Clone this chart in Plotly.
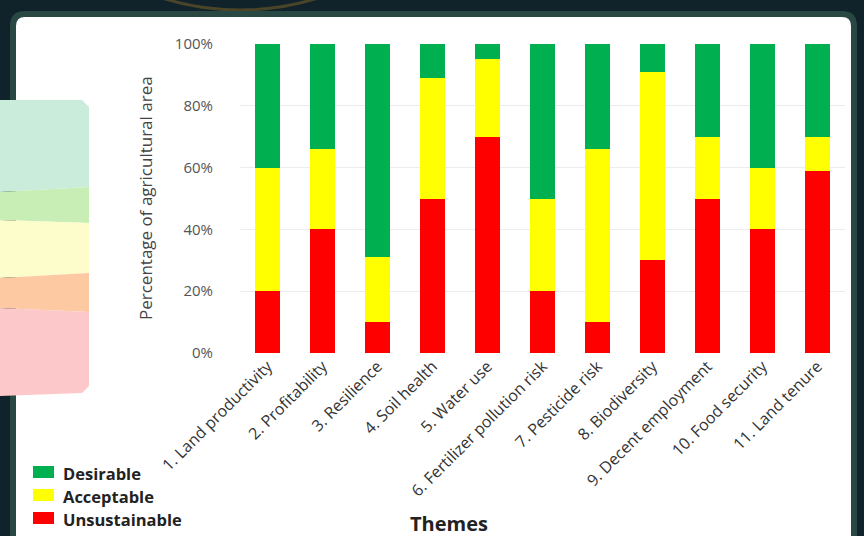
import plotly.graph_objects as go

themes = ["1. Land productivity", "2. Profitability", "3. Resilience", "4. Soil health",
          "5. Water use", "6. Fertilizer pollution risk", "7. Pesticide risk",
          "8. Biodiversity", "9. Decent employment", "10. Food security", "11. Land tenure"]
unsustainable = [20, 40, 10, 50, 70, 20, 10, 30, 50, 40, 59]
acceptable = [40, 26, 21, 39, 25, 30, 56, 61, 20, 20, 11]
desirable = [40, 34, 69, 11, 5, 50, 34, 9, 30, 40, 30]
y_tick_values = [0, 20, 40, 60, 80, 100]
y_tick_labels = ["0%", "20%", "40%", "60%", "80%", "100%"]
series_names = ["Unsustainable", "Acceptable", "Desirable"]
series_colors = ["#ff0000", "#ffff00", "#00b050"]

W, H = 864, 536
L, R, T, B = 240, 19, 44, 183
PW, PH = W - L - R, H - T - B

def px(x):
    return (x - L) / PW

def py(y):
    return (H - B - y) / PH

fig = go.Figure()
for name, vals, col in zip(series_names, [unsustainable, acceptable, desirable], series_colors):
    fig.add_trace(go.Bar(name=name, x=themes, y=vals, marker_color=col))
fig.update_traces(marker_line_width=0, hoverinfo="skip")

def rrect(x0, y0, x1, y1, r):
    return (f"M{px(x0+r)},{py(y0)} L{px(x1-r)},{py(y0)} Q{px(x1)},{py(y0)} {px(x1)},{py(y0+r)} "
            f"L{px(x1)},{py(y1-r)} Q{px(x1)},{py(y1)} {px(x1-r)},{py(y1)} "
            f"L{px(x0+r)},{py(y1)} Q{px(x0)},{py(y1)} {px(x0)},{py(y1-r)} "
            f"L{px(x0)},{py(y0+r)} Q{px(x0)},{py(y0)} {px(x0+r)},{py(y0)} Z")

def poly(pts):
    return "M" + " L".join(f"{px(x)},{py(y)}" for x, y in pts) + " Z"

shapes = []
# faint arc at top
shapes.append(dict(type="circle", xref="paper", yref="paper",
                   x0=px(240 - 260), x1=px(240 + 260), y0=py(-250 - 260), y1=py(-250 + 260),
                   line=dict(color="#4a4529", width=3), fillcolor="rgba(0,0,0,0)", layer="below"))
# card
shapes.append(dict(type="path", xref="paper", yref="paper", path=rrect(13, 14, 854, 580, 12),
                   fillcolor="#ffffff", line=dict(color="#2a4843", width=6), layer="below"))
# pastel decoration
pastel = [
    ([(0, 100), (82, 100), (89, 107), (89, 187), (0, 192)], "#c9ecdb"),
    ([(0, 192), (89, 187), (89, 223), (0, 220)], "#c8eeb6"),
    ([(0, 220), (89, 223), (89, 273), (0, 278)], "#fdfccb"),
    ([(0, 278), (89, 273), (89, 312), (0, 308)], "#fdc9a2"),
    ([(0, 308), (89, 312), (89, 386), (82, 393), (0, 396)], "#fdc8c9"),
]
for pts, col in pastel:
    shapes.append(dict(type="path", xref="paper", yref="paper", path=poly(pts),
                       fillcolor=col, line=dict(width=0), layer="below"))

annotations = [
    dict(text="Percentage of agricultural area", xref="paper", yref="paper",
         x=px(145), y=py(198), textangle=-90, showarrow=False,
         font=dict(family="Open Sans", size=17, color="#444444"), xanchor="center", yanchor="middle"),
    dict(text="<b>Themes</b>", xref="paper", yref="paper",
         x=px(449), y=py(523), showarrow=False,
         font=dict(family="Open Sans", size=20, color="#222222"), xanchor="center", yanchor="middle"),
]

# legend (drawn manually to match compact spacing)
legend_rows = [472, 495, 518]
for i, (name, col) in enumerate(zip(series_names[::-1], series_colors[::-1])):
    yc = legend_rows[i]
    shapes.append(dict(type="rect", xref="paper", yref="paper",
                       x0=px(33), x1=px(54), y0=py(yc - 6), y1=py(yc + 6),
                       fillcolor=col, line=dict(width=0)))
    annotations.append(dict(text=f"<b>{name}</b>", xref="paper", yref="paper",
                            x=px(61), y=py(yc + 1), showarrow=False, xanchor="left", yanchor="middle",
                            font=dict(family="Open Sans", size=16.5, color="#222222")))

fig.update_layout(
    width=W, height=H,
    margin=dict(l=L, r=R, t=T, b=B, autoexpand=False),
    barmode="stack", bargap=0.547,
    paper_bgcolor="#11232a", plot_bgcolor="rgba(0,0,0,0)",
    shapes=shapes, annotations=annotations,
    font=dict(family="Open Sans", color="#333333"),
    showlegend=False,
)
fig.update_xaxes(tickangle=-45, tickfont=dict(size=16, color="#333333"), showgrid=False,
                 showline=False, zeroline=False, ticks="", automargin=False)
fig.update_yaxes(range=[0, 100], tickmode="array", tickvals=y_tick_values, ticktext=y_tick_labels,
                 tickfont=dict(size=15, color="#555555"), showgrid=True, gridcolor="#ececec",
                 gridwidth=1, zeroline=False, showline=False, ticks="", ticklabelstandoff=26,
                 automargin=False)

fig.write_html("out.html")
